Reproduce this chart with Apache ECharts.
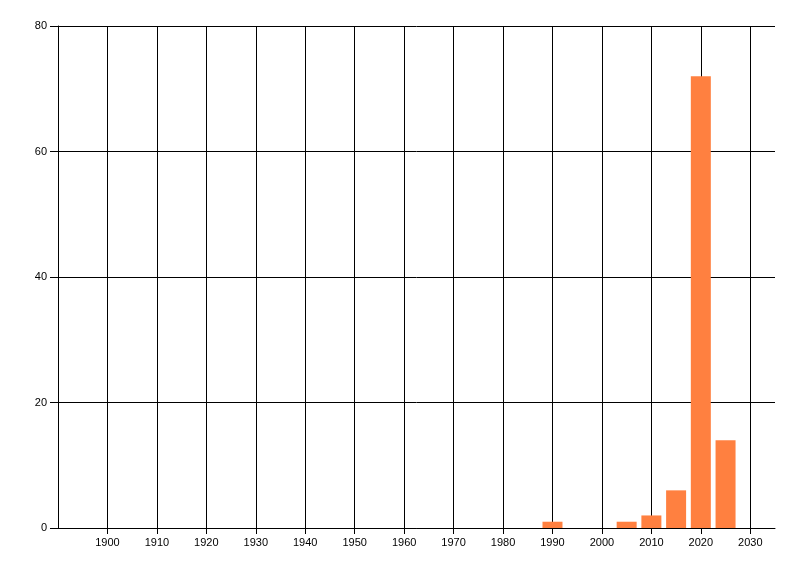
<!DOCTYPE html>
<html>
<head>
<meta charset="utf-8">
<script src="https://cdn.jsdelivr.net/npm/echarts@6/dist/echarts.min.js"></script>
<style>html,body{margin:0;padding:0;background:#fff}#c{width:800px;height:576px}</style>
</head>
<body>
<div id="c"></div>
<script>
const years = [1990, 2005, 2010, 2015, 2020, 2025];
const counts = [1, 1, 2, 6, 72, 14];
const xTicks = [1900, 1910, 1920, 1930, 1940, 1950, 1960, 1970, 1980, 1990, 2000, 2010, 2020, 2030];

const chart = echarts.init(document.getElementById('c'));
const font = { fontFamily: 'Liberation Sans', fontSize: 11, color: '#000' };
chart.setOption({
  animation: false,
  backgroundColor: '#fff',
  grid: { left: 58, right: 25, top: 26, bottom: 48, containLabel: false },
  xAxis: {
    type: 'value', min: 1890, max: 2035, interval: 10,
    axisLine: { show: true, onZero: false, lineStyle: { color: '#000', width: 1 } },
    axisTick: { show: true, length: 6, customValues: xTicks, lineStyle: { color: '#000' } },
    axisLabel: Object.assign({ customValues: xTicks, margin: 9, formatter: v => String(v) }, font),
    splitLine: { show: true, showMinLine: true, showMaxLine: true, lineStyle: { color: '#000', width: 1 } }
  },
  yAxis: {
    type: 'value', min: 0, max: 80, interval: 20,
    axisLine: { show: true, lineStyle: { color: '#000', width: 1 } },
    axisTick: { show: true, length: 8, lineStyle: { color: '#000' } },
    axisLabel: Object.assign({ margin: 11 }, font),
    splitLine: { show: true, lineStyle: { color: '#000', width: 1 } }
  },
  series: [{
    type: 'bar',
    barWidth: 20,
    itemStyle: { color: '#FF8040' },
    data: years.map((y, i) => [y, counts[i]])
  }]
});
</script>
</body>
</html>
